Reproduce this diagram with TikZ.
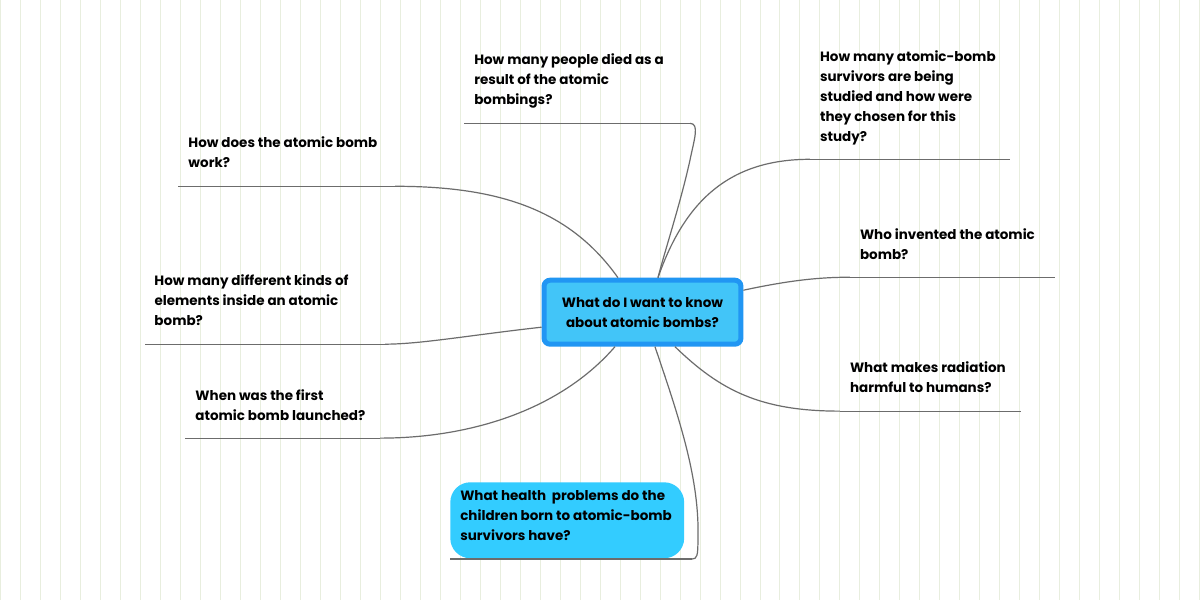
\documentclass[tikz,border=0pt]{standalone}
\usepackage{fontspec}
\setmainfont{Poppins}
\begin{document}
\begin{tikzpicture}[x=1pt,y=-1pt,
  lbl/.style={anchor=north west,align=left,font=\fontsize{13.5}{20}\selectfont\bfseries,inner sep=0pt},
  con/.style={draw=gray!85!black,line width=1.2pt},
  uline/.style={draw=gray!85!black,line width=1.2pt}]
\fill[white] (0,0) rectangle (1200,600);
\draw[draw={rgb,255:red,232;green,238;blue,222},line width=0.8pt] (0,0) grid[step=20] (1200,600);
\useasboundingbox (0,0) rectangle (1200,600);
% center
\node[draw={rgb,255:red,33;green,150;blue,243},line width=5pt,fill={rgb,255:red,66;green,197;blue,248},rounded corners=6pt,minimum width=197pt,minimum height=64pt,align=center,font=\fontsize{13.5}{20}\selectfont\bfseries] (c) at (642.5,312) {What do I want to know\\about atomic bombs?};
% labels
\node[lbl] (t1) at (474,53) {How many people died as a\\result of the atomic\\bombings?};
\node[lbl] (t2) at (820,50) {How many atomic-bomb\\survivors are being\\studied and how were\\they chosen for this\\study?};
\node[lbl] (t3) at (860,228) {Who invented the atomic\\bomb?};
\node[lbl] (t4) at (850,361) {What makes radiation\\harmful to humans?};
\node[lbl] (t6) at (195,389) {When was the first\\atomic bomb launched?};
\node[lbl] (t7) at (154,274) {How many different kinds of\\elements inside an atomic\\bomb?};
\node[lbl] (t8) at (188,136) {How does the atomic bomb\\work?};
\node[fill={rgb,255:red,51;green,204;blue,255},rounded corners=20pt,minimum width=234pt,minimum height=76pt,anchor=north west] (h) at (450,482) {};
\node[lbl] (t5) at (460,490) {What health\ \ problems do the\\children born to atomic-bomb\\survivors have?};
% underline coordinates
\coordinate (a1) at (464,123); \coordinate (b1) at (690,123);
\coordinate (a2) at (810,159); \coordinate (b2) at (1010,159);
\coordinate (a3) at (850,277); \coordinate (b3) at (1055,277);
\coordinate (a4) at (840,411); \coordinate (b4) at (1021,411);
\coordinate (a5) at (450,559); \coordinate (b5) at (692,559);
\coordinate (a6) at (185,438); \coordinate (b6) at (380,438);
\coordinate (a7) at (145,344); \coordinate (b7) at (385,344);
\coordinate (a8) at (178,186); \coordinate (b8) at (395,186);
\foreach \i in {1,...,8} {\draw[uline] (a\i) -- (b\i);}
% connectors
\draw[con] (b1) .. controls (700,123) and (694,140) .. (690,160) .. controls (680,205) and (665,250) .. (c.north -| 658,0);
\draw[con] (a2) .. controls (730,159) and (685,200) .. (c.north -| 658,0);
\draw[con] (c.east |- 0,290) .. controls (790,280) and (820,277) .. (a3);
\draw[con] (c.south -| 675,0) .. controls (720,390) and (760,411) .. (a4);
\draw[con] (c.south -| 655,0) .. controls (680,420) and (700,480) .. (698,540) .. controls (698,556) and (697,559) .. (b5);
\draw[con] (c.south -| 615,0) .. controls (560,410) and (470,438) .. (b6);
\draw[con] (c.west |- 0,327) .. controls (470,335) and (420,344) .. (b7);
\draw[con] (c.north -| 618,0) .. controls (570,210) and (500,186) .. (b8);
\end{tikzpicture}
\end{document}
